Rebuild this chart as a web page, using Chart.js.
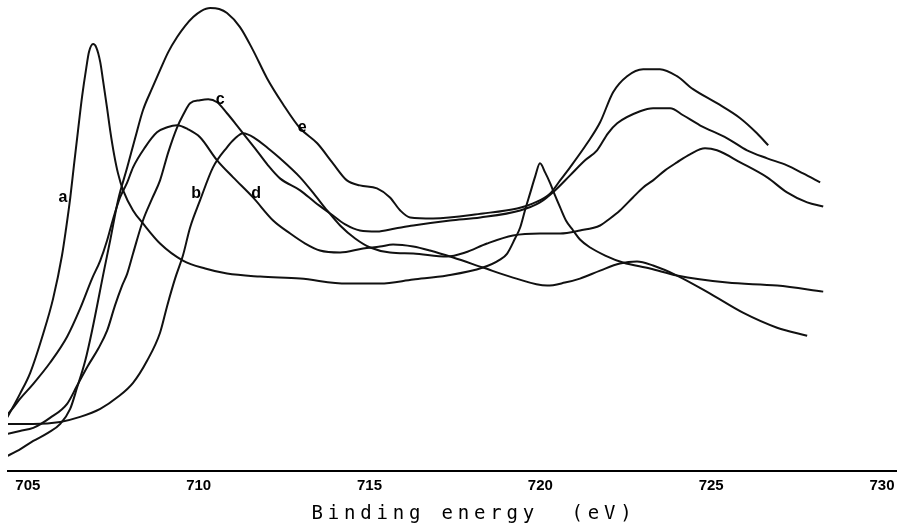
<!DOCTYPE html>
<html><head><meta charset="utf-8">
<script src="https://cdn.jsdelivr.net/npm/chart.js@4.4.1/dist/chart.umd.min.js"></script>
<style>html,body{margin:0;padding:0;background:#fff;}#wrap{width:901px;height:532px;}</style>
</head><body><div id="wrap"><canvas id="c" width="901" height="532"></canvas></div>
<script>
// x-axis ticks (binding energy, eV)
const xTicks = [705, 710, 715, 720, 725, 730];
const curveNames = ['a', 'b', 'c', 'd', 'e'];

// Curve a
const aEnergy = [704.39,704.77,705.07,705.45,705.74,706.00,706.12,706.24,706.35,706.47,706.59,706.71,706.79,706.91,707.00,707.12,707.20,707.32,707.41,707.53,707.64,707.79,708.08,708.37,708.87,709.54,710.19,710.83,711.80,712.97,714.34,715.31,716.28,717.27,718.32,718.82,719.03,719.26,719.41,719.55,719.70,719.85,719.99,720.14,720.29,720.43,720.58,720.75,720.96,721.16,721.46,721.90,722.42,723.21,724.00,725.47,726.93,728.28];
const aIntensity = [53,77,98,137,172,215,242,272,305,340,374,402,418,426,423,408,390,362,340,315,297,280,260,247,227,210,202,197,194,192,187,187,191,195,203,211,217,232,243,260,277,294,307,298,287,275,263,250,240,231,223,215,208,202,195,188,185,179];

// Curve b
const bEnergy = [704.39,705.16,705.95,706.53,707.12,707.64,708.08,708.49,708.87,709.08,709.31,709.54,709.75,710.04,710.42,710.83,711.07,711.30,711.65,712.03,712.38,712.97,713.41,713.76,714.14,714.58,715.02,715.60,716.28,717.27,717.80,718.44,719.20,719.99,720.58,721.16,721.75,722.04,722.33,722.71,723.01,723.30,723.65,724.00,724.38,724.82,725.17,725.85,726.64,727.22,727.81,728.28];
const bIntensity = [47,47,49,54,62,74,88,110,138,165,192,215,243,270,303,323,332,337,332,322,312,293,275,260,245,232,223,218,217,214,218,227,235,237,237,240,245,252,260,273,283,290,300,308,316,322,320,308,293,278,268,264];

// Curve c
const cEnergy = [704.39,704.77,705.16,705.65,706.15,706.44,706.76,707.06,707.32,707.55,707.76,707.91,708.08,708.37,708.64,708.87,709.11,709.37,709.54,709.75,710.04,710.28,710.54,710.83,711.07,711.30,711.65,712.03,712.38,712.97,713.41,713.85,714.29,714.72,715.22,715.75,716.28,717.36,718.24,719.41,719.99,720.43,720.87,721.31,721.66,721.98,722.25,722.92,723.30,723.80,724.18,724.67,725.47,726.05,726.64,727.22,727.69,728.19];
const cIntensity = [37,40,43,53,67,85,105,122,140,165,185,197,217,250,272,290,318,343,355,367,370,371,368,357,347,337,322,305,292,280,268,257,246,240,239,242,245,250,253,260,268,280,295,310,320,337,347,359,362,362,355,345,332,320,312,305,297,288];

// Curve d
const dEnergy = [704.39,704.57,704.77,705.16,705.65,706.15,706.53,706.88,707.12,707.32,707.50,707.70,707.91,708.08,708.43,708.78,709.08,709.37,709.69,710.04,710.54,711.01,711.59,712.18,712.68,713.12,713.55,714.14,714.81,715.31,715.69,716.28,716.77,717.45,718.32,719.20,720.20,720.72,721.16,721.75,722.33,722.83,723.30,724.00,724.97,725.93,726.93,727.81];
const dIntensity = [56,63,72,87,108,134,162,192,210,230,252,273,288,303,323,338,343,345,341,333,310,293,273,250,237,227,220,218,222,224,226,224,220,213,203,193,185,188,192,200,207,209,205,195,177,158,143,135];

// Curve e
const eEnergy = [704.34,704.69,705.16,705.59,705.95,706.24,706.44,706.68,706.88,707.23,707.41,707.64,707.91,708.14,708.37,708.64,708.87,709.11,709.37,709.60,709.84,710.07,710.34,710.60,710.83,711.21,711.59,712.00,712.47,712.97,713.47,713.93,714.34,714.72,715.22,715.60,715.90,716.19,716.86,718.32,719.32,719.79,720.29,720.58,720.87,721.37,721.75,722.13,722.54,723.01,723.50,724.00,724.47,725.17,725.85,726.34,726.67];
const eIntensity = [14,20,30,38,47,62,83,110,140,200,230,270,303,332,360,382,400,418,433,444,453,459,462,461,457,443,420,392,366,342,327,307,290,285,282,273,260,253,252,257,262,267,277,290,303,327,348,378,394,401,401,394,381,367,352,337,325];

// Curve-letter anchors (eV, intensity)
const labelEnergy = [706.03, 709.93, 710.63, 711.68, 713.03];
const labelIntensity = [273, 277, 371, 277, 343];

const energies = [aEnergy, bEnergy, cEnergy, dEnergy, eEnergy];
const intensities = [aIntensity, bIntensity, cIntensity, dIntensity, eIntensity];

const datasets = curveNames.map((n, i) => ({
  label: n,
  data: energies[i].map((x, j) => ({x: x, y: intensities[i][j]})),
  borderColor: '#111',
  borderWidth: 2,
  pointRadius: 0,
  fill: false,
  cubicInterpolationMode: 'monotone'
}));

const curveLabels = {
  id: 'curveLabels',
  afterDatasetsDraw(chart) {
    const {ctx, scales: {x, y}} = chart;
    ctx.save();
    ctx.font = 'bold 16px "Liberation Sans", Arial, sans-serif';
    ctx.fillStyle = '#000';
    ctx.textAlign = 'center';
    ctx.textBaseline = 'middle';
    curveNames.forEach((n, i) => {
      ctx.fillText(n, x.getPixelForValue(labelEnergy[i]), y.getPixelForValue(labelIntensity[i]));
    });
    ctx.restore();
  }
};

const spacedTitle = {
  id: 'spacedTitle',
  beforeDraw(chart) {
    const s = chart.scales.x;
    if (s && !s._spaced) {
      const orig = s.drawTitle;
      s.drawTitle = function () {
        const c = this.ctx;
        c.save();
        c.letterSpacing = '4.8px';
        c.translate(22, 0);
        orig.call(this);
        c.restore();
      };
      s._spaced = true;
    }
  }
};

new Chart(document.getElementById('c'), {
  type: 'line',
  data: {datasets: datasets},
  options: {
    responsive: false,
    animation: false,
    devicePixelRatio: 1,
    layout: {padding: {left: 8, right: 5, top: 0, bottom: 0}},
    plugins: {legend: {display: false}, tooltip: {enabled: false}},
    scales: {
      x: {
        type: 'linear',
        min: 704.42,
        max: 730.41,
        afterBuildTicks: (axis) => { axis.ticks = xTicks.map(v => ({value: v})); },
        grid: {display: false, drawTicks: false},
        border: {display: true, color: '#000', width: 2},
        ticks: {
          padding: 6,
          color: '#000',
          font: {family: '"Liberation Sans", Arial, sans-serif', size: 15, weight: 'bold'},
          maxRotation: 0,
          callback: (v) => String(v)
        },
        title: {
          display: true,
          text: 'Binding energy  (eV)',
          color: '#000',
          font: {family: '"DejaVu Sans Mono", monospace', size: 19, weight: 'normal'},
          padding: {top: 1.6, bottom: 6.6}
        }
      },
      y: {
        type: 'linear',
        min: 0,
        max: 470,
        display: false
      }
    }
  },
  plugins: [curveLabels, spacedTitle]
});
</script>
</body></html>
